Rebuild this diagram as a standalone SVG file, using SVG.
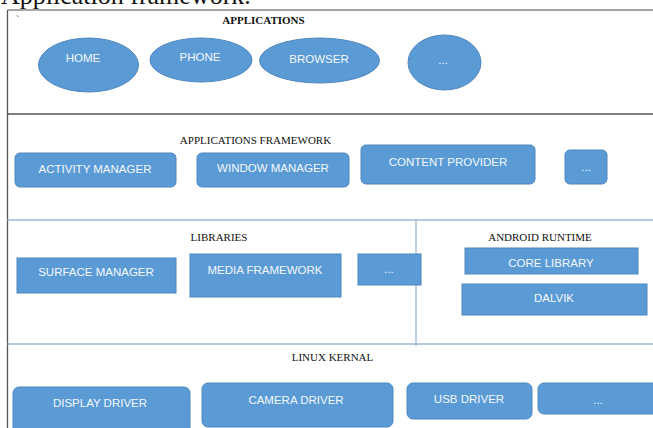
<svg xmlns="http://www.w3.org/2000/svg" width="653" height="428" viewBox="0 0 653 428">
<style>
.node{fill:#5b9bd5;stroke:#4f86bd;stroke-width:1}
.lbl{font-family:"Liberation Sans",Arial,sans-serif;font-size:11.5px;fill:#f4f8fc;text-anchor:middle}
.ttl{font-family:"Liberation Serif","Times New Roman",serif;font-size:11px;fill:#111;text-anchor:middle}
.dark{stroke:#555;stroke-width:1.3;fill:none}
.light{stroke:#9ab8d6;stroke-width:1.3;fill:none}
</style>
<rect width="653" height="428" fill="#fff"/>
<text x="1" y="4" font-family="'Liberation Serif','Times New Roman',serif" font-size="26" fill="#111">Application framework.</text>
<g id="frame">
<line class="dark" x1="7.5" y1="10" x2="653" y2="10" style="stroke:#888"/>
<line class="dark" x1="7.5" y1="10" x2="7.5" y2="428"/>
<line class="dark" x1="7.5" y1="114" x2="653" y2="114"/>
<line class="light" x1="7.5" y1="220" x2="653" y2="220"/>
<line class="light" x1="7.5" y1="344" x2="653" y2="344"/>
<line class="light" x1="416" y1="220" x2="416" y2="346"/>
<text x="16" y="22" font-family="'Liberation Serif',serif" font-size="9" fill="#333">`</text>
</g>
<g id="connectors"></g>
<g id="applications">
<text class="ttl" x="263.5" y="24" font-weight="bold">APPLICATIONS</text>
</g>
<g id="home"><ellipse class="node" cx="88.5" cy="65" rx="50" ry="27"/><text class="lbl" x="83" y="62">HOME</text></g>
<g id="phone"><ellipse class="node" cx="201" cy="60" rx="51" ry="22"/><text class="lbl" x="200" y="61">PHONE</text></g>
<g id="browser"><ellipse class="node" cx="319.5" cy="60.5" rx="60" ry="22.5"/><text class="lbl" x="319" y="63">BROWSER</text></g>
<g id="app-more"><ellipse class="node" cx="444.5" cy="62.5" rx="36.5" ry="27.5"/><text class="lbl" x="443" y="64">...</text></g>
<g id="framework"><text class="ttl" x="255.5" y="144">APPLICATIONS FRAMEWORK</text></g>
<g id="activity-manager"><rect class="node" x="15" y="153" width="161" height="34" rx="5"/><text class="lbl" x="95" y="173">ACTIVITY MANAGER</text></g>
<g id="window-manager"><rect class="node" x="197" y="153" width="152" height="34" rx="5"/><text class="lbl" x="273" y="172">WINDOW MANAGER</text></g>
<g id="content-provider"><rect class="node" x="361" y="145" width="174" height="39" rx="5"/><text class="lbl" x="448" y="166">CONTENT PROVIDER</text></g>
<g id="fw-more"><rect class="node" x="565" y="150" width="42" height="34" rx="5"/><text class="lbl" x="586" y="171">...</text></g>
<g id="libraries"><text class="ttl" x="219" y="241">LIBRARIES</text></g>
<g id="surface-manager"><rect class="node" x="17" y="258" width="159" height="35"/><text class="lbl" x="96" y="276">SURFACE MANAGER</text></g>
<g id="media-framework"><rect class="node" x="190" y="254" width="151" height="43"/><text class="lbl" x="265" y="274">MEDIA FRAMEWORK</text></g>
<g id="lib-more"><rect class="node" x="358" y="254" width="63" height="31"/><text class="lbl" x="389" y="273">...</text></g>
<g id="android-runtime"><text class="ttl" x="540" y="241">ANDROID RUNTIME</text></g>
<g id="core-library"><rect class="node" x="465" y="248" width="173" height="26"/><text class="lbl" x="551" y="267">CORE LIBRARY</text></g>
<g id="dalvik"><rect class="node" x="462" y="284" width="185" height="31"/><text class="lbl" x="554" y="302">DALVIK</text></g>
<g id="linux-kernel"><text class="ttl" x="332.5" y="361">LINUX KERNAL</text></g>
<g id="display-driver"><rect class="node" x="13" y="387" width="177" height="50" rx="6"/><text class="lbl" x="100" y="407">DISPLAY DRIVER</text></g>
<g id="camera-driver"><rect class="node" x="202" y="383" width="191" height="44" rx="6"/><text class="lbl" x="296" y="404">CAMERA DRIVER</text></g>
<g id="usb-driver"><rect class="node" x="407" y="383" width="125" height="36" rx="6"/><text class="lbl" x="469" y="403">USB DRIVER</text></g>
<g id="driver-more"><rect class="node" x="538" y="383" width="125" height="31" rx="6"/><text class="lbl" x="598" y="404">...</text></g>
</svg>
